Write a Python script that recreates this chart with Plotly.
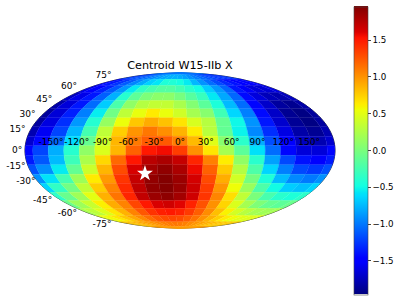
import plotly.graph_objects as go
from plotly.colors import sample_colorscale

title = 'Centroid W15-IIb X'
font = 'DejaVu Sans'

lons = [-180, -162, -144, -126, -108, -90, -72, -54, -36, -18, 0,
        18, 36, 54, 72, 90, 108, 126, 144, 162, 180]
lats = [90, 81, 72, 63, 54, 45, 36, 27, 18, 9, 0,
        -9, -18, -27, -36, -45, -54, -63, -72, -81, -90]

# one row per latitude
z_rows = [
    [-1.03] * 21,
    [-1.26, -1.22, -1.16, -1.09, -1.01, -.93, -.86, -.81, -.79, -.78, -.80, -.84, -.90, -.97, -1.04, -1.11, -1.18, -1.23, -1.27, -1.28, -1.26],
    [-1.46, -1.38, -1.27, -1.12, -.96, -.81, -.66, -.58, -.44, -.43, -.48, -.56, -.76, -.90, -1.04, -1.17, -1.30, -1.40, -1.47, -1.49, -1.46],
    [-1.62, -1.51, -1.34, -1.13, -.89, -.56, -.35, -.25, -.19, -.19, -.26, -.38, -.49, -.68, -.87, -1.07, -1.38, -1.54, -1.64, -1.67, -1.62],
    [-1.74, -1.60, -1.38, -1.10, -.79, -.40, -.13, .01, .08, .08, -.02, -.17, -.32, -.57, -.82, -1.07, -1.43, -1.64, -1.76, -1.80, -1.74],
    [-1.82, -1.65, -1.38, -1.05, -.68, -.23, .10, .27, .34, .34, .22, .04, -.15, -.45, -.75, -1.05, -1.45, -1.70, -1.85, -1.90, -1.82],
    [-1.86, -1.66, -1.35, -.98, -.55, -.05, .32, .52, .63, .53, .40, .20, .06, -.28, -.64, -.98, -1.43, -1.71, -1.89, -1.94, -1.86],
    [-1.85, -1.63, -1.29, -.88, -.41, .13, .54, .78, .89, .80, .66, .44, .28, -.11, -.51, -.90, -1.38, -1.69, -1.88, -1.94, -1.85],
    [-1.79, -1.56, -1.20, -.76, -.26, .32, .75, .99, 1.11, 1.01, .86, .62, .29, -.12, -.53, -.94, -1.29, -1.62, -1.82, -1.89, -1.79],
    [-1.69, -1.45, -1.07, -.62, -.10, .39, .85, 1.10, 1.22, 1.23, 1.07, .83, .48, .06, -.38, -.80, -1.17, -1.51, -1.73, -1.79, -1.69],
    [-1.45, -1.20, -.80, -.40, .10, .45, .85, 1.20, 1.50, 1.55, 1.35, 1.00, .65, .20, -.15, -.60, -1.05, -1.45, -1.65, -1.65, -1.45],
    [-1.37, -1.13, -.75, -.30, .23, .71, 1.17, 1.51, 1.73, 1.79, 1.69, 1.45, 1.07, .62, .10, -.39, -.85, -1.19, -1.40, -1.47, -1.37],
    [-1.16, -.92, -.56, -.12, .38, .85, 1.29, 1.62, 1.82, 1.89, 1.79, 1.56, 1.20, .76, .26, -.22, -.65, -.98, -1.19, -1.25, -1.16],
    [-.91, -.59, -.26, .16, .63, .97, 1.38, 1.69, 1.88, 1.94, 1.85, 1.63, 1.29, .88, .41, -.03, -.44, -.75, -.94, -1.00, -.91],
    [-.65, -.35, -.04, .33, .76, 1.06, 1.43, 1.71, 1.89, 1.94, 1.86, 1.66, 1.35, .98, .55, .15, -.22, -.50, -.68, -.73, -.65],
    [-.37, -.09, .17, .50, .87, 1.12, 1.45, 1.70, 1.85, 1.90, 1.82, 1.65, 1.38, 1.05, .68, .33, .00, -.24, -.39, -.44, -.37],
    [-.08, .16, .36, .61, .89, 1.06, 1.31, 1.50, 1.61, 1.65, 1.59, 1.46, 1.26, 1.00, .72, .45, .20, .02, -.10, -.14, -.08],
    [.20, .31, .46, .65, .86, 1.06, 1.24, 1.39, 1.47, 1.50, 1.46, 1.36, 1.21, 1.02, .81, .60, .42, .29, .20, .17, .20],
    [.49, .56, .65, .78, .91, 1.03, 1.15, 1.24, 1.29, 1.31, 1.29, 1.22, 1.13, 1.00, .87, .75, .63, .55, .49, .47, .49],
    [.76, .79, .83, .89, .94, .99, 1.04, 1.08, 1.10, 1.11, 1.10, 1.07, 1.03, .98, .93, .87, .83, .79, .77, .76, .76],
    [.95] * 21,
]

star_lon = [-42.6]
star_lat = [-21.8]

lon_ticks = [-150, -120, -90, -60, -30, 0, 30, 60, 90, 120, 150]
lat_ticks = [75, 60, 45, 30, 15, 0, -15, -30, -45, -60, -75]
lat_tick_sides = ['top left'] * 5 + ['middle left'] * 3 + ['bottom left'] * 3

zmin, zmax = -1.955, 1.955
jet = [[0, 'rgb(0,0,128)'], [.11, 'rgb(0,0,255)'], [.125, 'rgb(0,0,255)'],
       [.34, 'rgb(0,219,255)'], [.35, 'rgb(0,228,247)'], [.375, 'rgb(20,255,226)'],
       [.64, 'rgb(238,255,8)'], [.65, 'rgb(247,245,0)'], [.66, 'rgb(255,236,0)'],
       [.89, 'rgb(255,18,0)'], [.91, 'rgb(219,0,0)'], [1, 'rgb(128,0,0)']]


def cell(lon, lat):
    # edges half way to the neighbours, the outer columns and rows are half cells
    w, e = max(lon - 9, -179.99), min(lon + 9, 179.99)
    s, n = max(lat - 4.5, -89.99), min(lat + 4.5, 89.99)
    top = [(w + (e - w) * i / 6, n) for i in range(7)]
    bottom = [(e - (e - w) * i / 6, s) for i in range(7)]
    return top + bottom + [top[0]]


fig = go.Figure()
for i, lat in enumerate(lats):
    for j, lon in enumerate(lons):
        pts = cell(lon, lat)
        colour = sample_colorscale(jet, (z_rows[i][j] - zmin) / (zmax - zmin))[0]
        fig.add_trace(go.Scattergeo(
            lon=[p[0] for p in pts], lat=[p[1] for p in pts],
            mode='lines', fill='toself', fillcolor=colour,
            line=dict(width=0.3, color=colour), hoverinfo='skip', showlegend=False,
        ))

# invisible point, only there to carry the colorbar
fig.add_trace(go.Scattergeo(
    lon=[0], lat=[0], mode='markers', showlegend=False, hoverinfo='skip',
    marker=dict(size=1, opacity=0, color=[0], cmin=zmin, cmax=zmax, colorscale=jet,
                colorbar=dict(x=354 / 399, xanchor='left', xpad=0, ypad=0,
                              y=0.5, yanchor='middle', lenmode='pixels', len=288,
                              thickness=14, outlinecolor='#444444', outlinewidth=0.6,
                              tickvals=[-1.5, -1, -.5, 0, .5, 1, 1.5],
                              ticktext=['−1.5', '−1.0', '−0.5', '0.0', '0.5', '1.0', '1.5'],
                              ticks='outside', ticklen=3, tickwidth=0.6,
                              tickfont=dict(family=font, size=8.7, color='black'))),
))
fig.add_trace(go.Scattergeo(
    lon=lon_ticks, lat=[3] * len(lon_ticks), mode='text',
    text=[f'{v}°' for v in lon_ticks], textposition='top center',
    textfont=dict(family=font, size=9, color='black'), showlegend=False,
))
fig.add_trace(go.Scattergeo(
    lon=[-179.9] * len(lat_ticks), lat=lat_ticks, mode='text',
    text=[f'{v}°\u00a0' for v in lat_ticks], textposition=lat_tick_sides,
    textfont=dict(family=font, size=9, color='black'), showlegend=False,
))
fig.add_trace(go.Scattergeo(
    lon=star_lon, lat=star_lat, mode='markers',
    marker=dict(symbol='star', size=12, color='white', line_width=0),
    showlegend=False,
))
fig.update_layout(
    width=399, height=301,
    margin=dict(l=0, r=0, t=0, b=0),
    paper_bgcolor='white',
    font=dict(family=font),
    title=dict(text=title, x=180 / 399, xanchor='center', y=1 - 65 / 301, yanchor='middle',
               font=dict(family=font, size=11.2, color='black')),
    geo=dict(
        projection=dict(type='mollweide', scale=310 / 360),
        domain=dict(x=[0, 360 / 399], y=[0, 1]),
        showland=False, showocean=False, showlakes=False, showrivers=False,
        showcountries=False, showcoastlines=False, showsubunits=False,
        showframe=True, framecolor='black', framewidth=0.8, bgcolor='rgba(0,0,0,0)',
        lonaxis=dict(showgrid=False), lataxis=dict(showgrid=False),
    ),
)
fig.write_html('out.html', config=dict(displayModeBar=False),
               post_script="document.body.style.margin = '0';")
